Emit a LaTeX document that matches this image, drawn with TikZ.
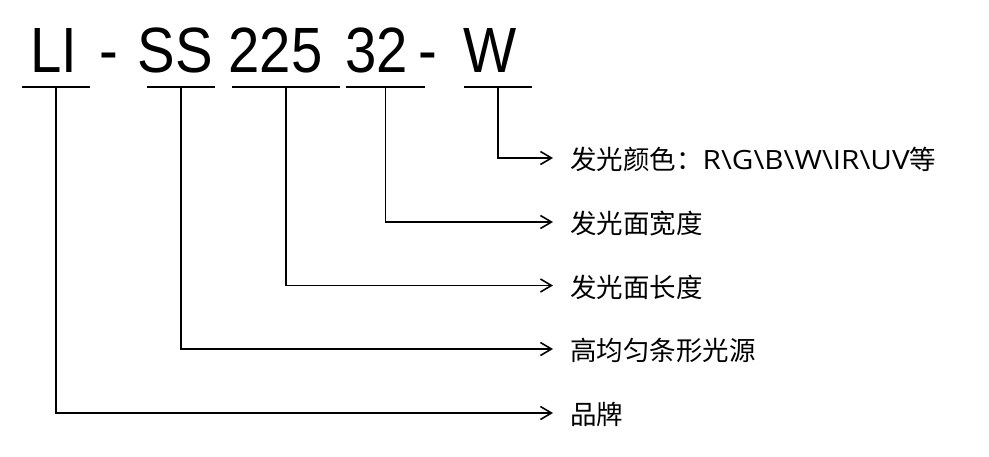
\documentclass[tikz,border=0pt]{standalone}
\usepackage{graphicx}
\usepackage{fontspec}
\setmainfont{Liberation Sans}
\newfontfamily\cjkfont{Noto Sans CJK SC}
\newfontfamily\latfont{Open Sans}
\usetikzlibrary{arrows.meta,positioning}
\newcommand{\narrow}[1]{\scalebox{0.88}[1]{#1}}
\newcommand{\bsl}{\textbackslash}
\newcommand{\wide}[1]{\scalebox{1.12}[1]{\latfont #1}}
\tikzset{
  part/.style = {inner sep=0pt, anchor=base, font=\fontsize{64}{64}\selectfont},
  desc/.style = {anchor=west, inner xsep=17pt, inner ysep=0pt, text height=23.5pt, text depth=0pt,
                 font=\cjkfont\fontsize{26.5}{30}\selectfont},
  bar/.style  = {line width=1.8pt},
  lead/.style = {line width=1.8pt, -{Straight Barb[length=11pt,width=13pt,line width=1.6pt]}},
}
\begin{document}
\begin{tikzpicture}[x=1pt, y=-1pt]
\useasboundingbox (0,0) rectangle (989,456);

% ---- the model code ----
\node[part] (li)    at (53.5,72)  {\narrow{LI}};
\node[part] (dash1) at (109,72)   {\narrow{-}};
\node[part] (ss)    at (175,72)   {\narrow{SS}};
\node[part] (len)   at (275.5,72) {\narrow{225}};
\node[part] (wid)   at (377,72)   {\narrow{32}};
\node[part] (dash2) at (427.5,72) {\narrow{-}};
\node[part] (col)   at (490.5,72) {\narrow{W}};

% ---- underlines ----
\foreach \nm/\a/\b in {li/22/90, ss/147/215, len/232/340, wid/346/425, col/464/532} {
  \coordinate (\nm U) at ({(\a+\b)/2},87);
  \draw[bar] (\a,87) -- (\b,87);
}

% ---- meanings ----
\node[desc] (colD) at (553,158)   {发光颜色：\wide{R\bsl G\bsl B\bsl W\bsl IR\bsl UV}等};
\node[desc] (widD) at (553,222)   {发光面宽度};
\node[desc] (lenD) at (553,285.5) {发光面长度};
\node[desc] (ssD)  at (553,349)   {高均匀条形光源};
\node[desc] (liD)  at (553,413)   {品牌};

\draw[lead] (colU) |- (colD.west);
\draw[lead] (widU) |- (widD.west);
\draw[lead] (lenU) |- (lenD.west);
\draw[lead] (ssU)  |- (ssD.west);
\draw[lead] (liU)  |- (liD.west);

\end{tikzpicture}
\end{document}
